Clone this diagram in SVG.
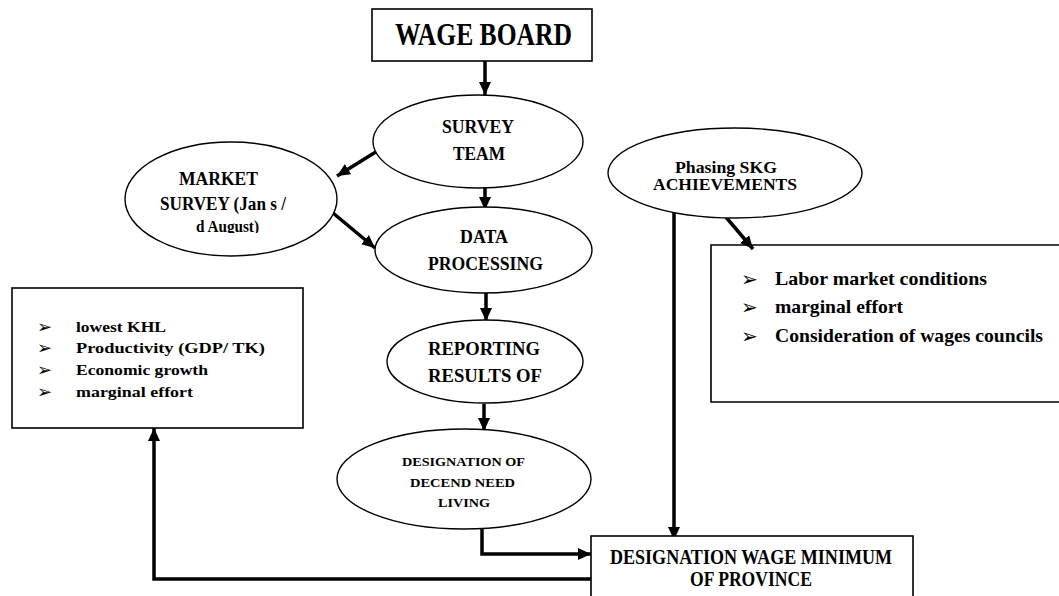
<svg xmlns="http://www.w3.org/2000/svg" width="1059" height="596" viewBox="0 0 1059 596">
<style>
.bg{fill:#fff}
.box{fill:#fff;stroke:#000;stroke-width:1.6}
.ell{fill:#fff;stroke:#000;stroke-width:1.4}
.t{font-family:"Liberation Serif","Times New Roman",serif;font-weight:bold;fill:#000}
.b{font-family:"DejaVu Sans",sans-serif;fill:#000}
.c{fill:none;stroke:#000;stroke-width:3.5}
</style>
<defs>
<marker id="ah" markerUnits="userSpaceOnUse" markerWidth="14" markerHeight="14" refX="13" refY="7" orient="auto">
<path d="M0,1 L13,7 L0,13 z" fill="#000"/>
</marker>
<clipPath id="mclip"><rect x="120" y="140" width="230" height="93"/></clipPath>
</defs>
<rect class="bg" x="0" y="0" width="1059" height="596"/>

<g id="left-box">
<rect class="box" x="12" y="288" width="291" height="140"/>
<text class="b" x="37" y="333" font-size="18">➢</text>
<text class="b" x="37" y="354" font-size="18">➢</text>
<text class="b" x="37" y="376" font-size="18">➢</text>
<text class="b" x="37" y="398" font-size="18">➢</text>
<text class="t" x="76" y="332" font-size="15" textLength="90" lengthAdjust="spacingAndGlyphs">lowest KHL</text>
<text class="t" x="76" y="353" font-size="15" textLength="189" lengthAdjust="spacingAndGlyphs">Productivity (GDP/ TK)</text>
<text class="t" x="76" y="375" font-size="15" textLength="132" lengthAdjust="spacingAndGlyphs">Economic growth</text>
<text class="t" x="76" y="397" font-size="15" textLength="117" lengthAdjust="spacingAndGlyphs">marginal effort</text>
</g>

<g id="right-box">
<path class="box" d="M1059,245 H711 V402 H1059"/>
<text class="b" x="741" y="286" font-size="20">➢</text>
<text class="b" x="741" y="314" font-size="20">➢</text>
<text class="b" x="741" y="343" font-size="20">➢</text>
<text class="t" x="775" y="285" font-size="19" textLength="212" lengthAdjust="spacingAndGlyphs">Labor market conditions</text>
<text class="t" x="775" y="313" font-size="19" textLength="128" lengthAdjust="spacingAndGlyphs">marginal effort</text>
<text class="t" x="775" y="342" font-size="19" textLength="268" lengthAdjust="spacingAndGlyphs">Consideration of wages councils</text>
</g>

<g id="connectors">
<path class="c" d="M485,61 L485,95" marker-end="url(#ah)"/>
<path class="c" d="M387,145 L337,176" marker-end="url(#ah)"/>
<path class="c" d="M327,208 L375,248" marker-end="url(#ah)"/>
<path class="c" d="M485,188 L485,210" marker-end="url(#ah)"/>
<path class="c" d="M486,293 L486,321" marker-end="url(#ah)"/>
<path class="c" d="M484,404 L484,431" marker-end="url(#ah)"/>
<path class="c" d="M482,517 L482,554 L591,554" marker-end="url(#ah)"/>
<path class="c" d="M674,210 L674,540" marker-end="url(#ah)"/>
<path class="c" d="M725,216 L753,249" marker-end="url(#ah)"/>
<path class="c" d="M591,579 L154,579 L154,428" marker-end="url(#ah)"/>
</g>

<g id="wage-board">
<rect class="box" x="372" y="9" width="220" height="52"/>
<text class="t" x="395" y="45" font-size="32" textLength="177" lengthAdjust="spacingAndGlyphs">WAGE BOARD</text>
</g>

<g id="survey-team">
<ellipse class="ell" cx="478" cy="141.5" rx="105" ry="46.5"/>
<text class="t" x="442" y="133" font-size="19" textLength="72" lengthAdjust="spacingAndGlyphs">SURVEY</text>
<text class="t" x="453" y="160" font-size="19" textLength="52" lengthAdjust="spacingAndGlyphs">TEAM</text>
</g>

<g id="market-survey">
<ellipse class="ell" cx="231" cy="199" rx="106" ry="57"/>
<g clip-path="url(#mclip)">
<text class="t" x="179" y="185" font-size="19" textLength="79" lengthAdjust="spacingAndGlyphs">MARKET</text>
<text class="t" x="160" y="210" font-size="18" textLength="126" lengthAdjust="spacingAndGlyphs">SURVEY (Jan s /</text>
<text class="t" x="196" y="232" font-size="16" textLength="63" lengthAdjust="spacingAndGlyphs">d August)</text>
</g>
</g>

<g id="data-processing">
<ellipse class="ell" cx="483.5" cy="250" rx="108.5" ry="43"/>
<text class="t" x="460" y="243" font-size="19" textLength="48" lengthAdjust="spacingAndGlyphs">DATA</text>
<text class="t" x="428" y="270" font-size="19" textLength="115" lengthAdjust="spacingAndGlyphs">PROCESSING</text>
</g>

<g id="reporting-results">
<ellipse class="ell" cx="485" cy="361.5" rx="98" ry="41.5"/>
<text class="t" x="428" y="355" font-size="18" textLength="112" lengthAdjust="spacingAndGlyphs">REPORTING</text>
<text class="t" x="428" y="382" font-size="18" textLength="114" lengthAdjust="spacingAndGlyphs">RESULTS OF</text>
</g>

<g id="designation-need">
<ellipse class="ell" cx="464" cy="479" rx="127" ry="50"/>
<text class="t" x="402" y="466" font-size="13.5" textLength="123" lengthAdjust="spacingAndGlyphs">DESIGNATION OF</text>
<text class="t" x="410" y="487" font-size="13.5" textLength="105" lengthAdjust="spacingAndGlyphs">DECEND NEED</text>
<text class="t" x="438" y="507" font-size="13.5" textLength="52" lengthAdjust="spacingAndGlyphs">LIVING</text>
</g>

<g id="phasing-skg">
<ellipse class="ell" cx="735" cy="173" rx="127" ry="45"/>
<text class="t" x="675" y="173" font-size="16" textLength="102" lengthAdjust="spacingAndGlyphs">Phasing SKG</text>
<text class="t" x="653" y="190" font-size="16" textLength="144" lengthAdjust="spacingAndGlyphs">ACHIEVEMENTS</text>
</g>

<g id="wage-minimum">
<rect class="box" x="591" y="536" width="322" height="70"/>
<text class="t" x="610" y="564" font-size="21" textLength="282" lengthAdjust="spacingAndGlyphs">DESIGNATION WAGE MINIMUM</text>
<text class="t" x="690" y="586" font-size="21" textLength="122" lengthAdjust="spacingAndGlyphs">OF PROVINCE</text>
</g>
</svg>
